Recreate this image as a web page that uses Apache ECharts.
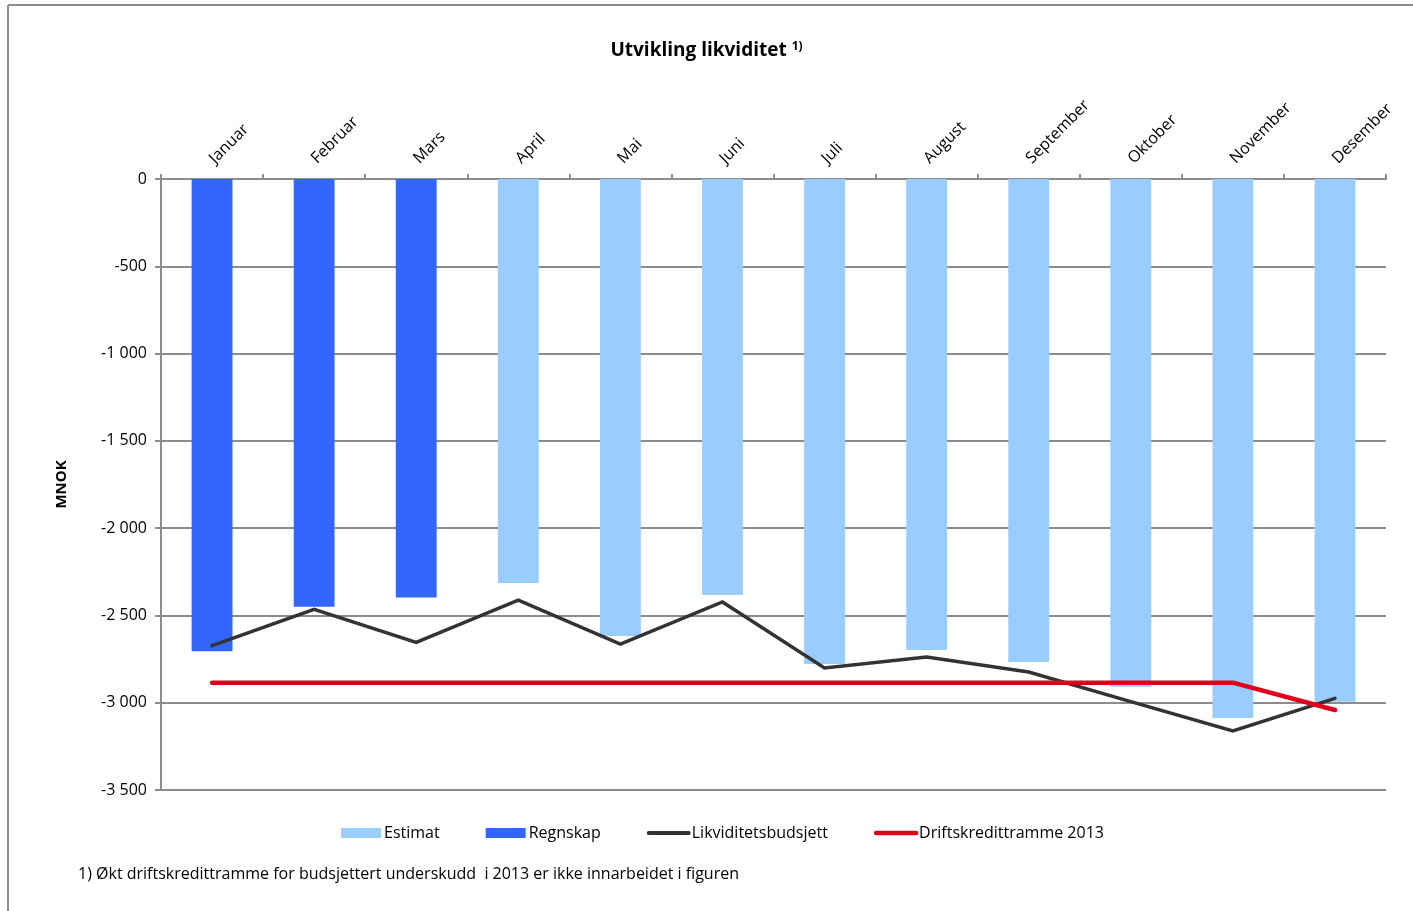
<!DOCTYPE html>
<html>
<head>
<meta charset="utf-8">
<script src="https://cdn.jsdelivr.net/npm/echarts@6/dist/echarts.min.js"></script>
<style>
  html, body { margin: 0; padding: 0; background: #fff; }
  #chart { width: 1413px; height: 911px; }
</style>
</head>
<body>
<div id="chart"></div>
<script>
// Månedlig likviditet (MNOK)
const months = ['Januar', 'Februar', 'Mars', 'April', 'Mai', 'Juni', 'Juli', 'August', 'September', 'Oktober', 'November', 'Desember'];
const regnskap = [-2705, -2450, -2398, null, null, null, null, null, null, null, null, null];
const estimat = [null, null, null, -2314, -2618, -2383, -2778, -2698, -2767, -2908, -3088, -2994];
const likviditetsbudsjett = [-2673, -2465, -2654, -2412, -2664, -2423, -2801, -2738, -2824, -2994, -3162, -2975];
const driftskredittramme = [-2885, -2885, -2885, -2885, -2885, -2885, -2885, -2885, -2885, -2885, -2885, -3042];
const yTicks = { min: -3500, max: 0, step: 500 };

const FONT = '"Liberation Sans Narrow", "Open Sans", sans-serif';
const GRID_COLOR = '#8c8c8c';

const fmt = v => {
  const s = String(Math.abs(v)).replace(/\B(?=(\d{3})+(?!\d))/g, ' ');
  return (v < 0 ? '-' : '') + s;
};

const chart = echarts.init(document.getElementById('chart'));
chart.setOption({
  backgroundColor: '#fff',
  animation: false,
  textStyle: { fontFamily: FONT },
  title: {
    text: '{a|Utvikling likviditet }{b|1)}',
    left: 'center',
    top: 36,
    textStyle: {
      rich: {
        a: { fontFamily: FONT, fontSize: 19, fontWeight: 'bold', color: '#000' },
        b: { fontFamily: FONT, fontSize: 12, fontWeight: 'bold', color: '#000', verticalAlign: 'top', padding: [0, 0, 8, 0] }
      }
    }
  },
  graphic: [
    { type: 'line', shape: { x1: 8, y1: 5, x2: 1413, y2: 5 }, style: { stroke: '#8c8c8c', lineWidth: 2 } },
    { type: 'line', shape: { x1: 8, y1: 5, x2: 8, y2: 911 }, style: { stroke: '#8c8c8c', lineWidth: 2 } },
    {
      type: 'text', left: 78, top: 866,
      style: { text: '1) Økt driftskredittramme for budsjettert underskudd  i 2013 er ikke innarbeidet i figuren', font: '16px ' + FONT, fill: '#000' }
    }
  ],
  legend: {
    bottom: 65,
    left: 336,
    itemWidth: 40,
    itemHeight: 10,
    itemGap: 46,
    textStyle: { fontFamily: FONT, fontSize: 16, color: '#000', padding: [0, 0, 0, -2] },
    data: [
      { name: 'Estimat', icon: 'rect' },
      { name: 'Regnskap', icon: 'rect' },
      { name: 'Likviditetsbudsjett', itemStyle: { opacity: 0 }, lineStyle: { width: 4, cap: 'round' } },
      { name: 'Driftskredittramme 2013', itemStyle: { opacity: 0 }, lineStyle: { width: 4.5, cap: 'round' } }
    ]
  },
  grid: { left: 161, right: 27, top: 179, bottom: 121, containLabel: false },
  xAxis: {
    type: 'category',
    position: 'top',
    data: months,
    boundaryGap: true,
    axisLine: { show: true, lineStyle: { color: GRID_COLOR, width: 2 } },
    axisTick: { show: true, inside: false, length: 5, alignWithLabel: false, lineStyle: { color: GRID_COLOR, width: 2 } },
    axisLabel: { rotate: 45, fontFamily: FONT, fontSize: 16, color: '#000', margin: 18, interval: 0 },
    splitLine: { show: false }
  },
  yAxis: {
    type: 'value',
    min: yTicks.min,
    max: yTicks.max,
    interval: yTicks.step,
    name: 'MNOK',
    nameLocation: 'middle',
    nameGap: 92,
    nameRotate: 90,
    nameTextStyle: { fontFamily: FONT, fontSize: 15, fontWeight: 'bold', color: '#000' },
    axisLine: { show: true, lineStyle: { color: GRID_COLOR, width: 2 } },
    axisTick: { show: true, length: 6, lineStyle: { color: GRID_COLOR, width: 2 } },
    axisLabel: { fontFamily: FONT, fontSize: 16, color: '#000', margin: 14, formatter: fmt },
    splitLine: { show: true, lineStyle: { color: GRID_COLOR, width: 2 } }
  },
  series: [
    {
      name: 'Estimat', type: 'bar', data: estimat, barWidth: '40%', barGap: '-100%',
      itemStyle: { color: '#99CCFF' }
    },
    {
      name: 'Regnskap', type: 'bar', data: regnskap, barWidth: '40%', barGap: '-100%',
      itemStyle: { color: '#3366FF' }
    },
    {
      name: 'Likviditetsbudsjett', type: 'line', data: likviditetsbudsjett,
      showSymbol: false, symbol: 'none',
      itemStyle: { color: '#333333' },
      lineStyle: { color: '#333333', width: 3.5, cap: 'round', join: 'miter' }
    },
    {
      name: 'Driftskredittramme 2013', type: 'line', data: driftskredittramme,
      showSymbol: false, symbol: 'none',
      itemStyle: { color: '#E0001B' },
      lineStyle: { color: '#E0001B', width: 4.5, cap: 'round' }
    }
  ]
});
</script>
</body>
</html>
